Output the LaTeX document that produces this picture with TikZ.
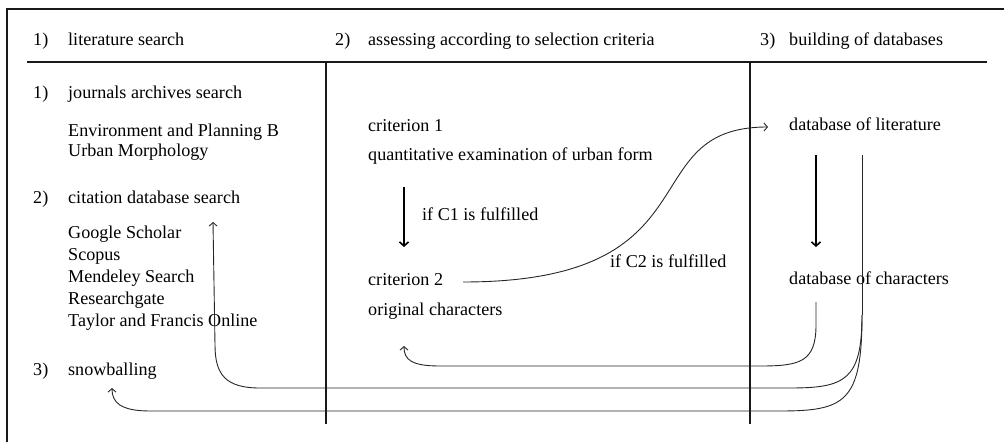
\documentclass[tikz,border=0pt]{standalone}
\usepackage{fontspec}
\setmainfont{Liberation Serif}
\usetikzlibrary{arrows.meta}
\begin{document}
\begin{tikzpicture}[x=1pt,y=-1pt,
 txt/.style={anchor=base west,inner sep=0pt,font=\fontsize{18.1}{22}\selectfont},
 frame/.style={line width=2pt,black!90},
 flow/.style={line width=1.6pt,-{Straight Barb[length=4pt,width=9pt]}},
 back/.style={line width=0.9pt,black!85,-{Straight Barb[length=3.5pt,width=8pt]}},
 plain/.style={line width=0.9pt,black!85},
]
\useasboundingbox (0,0) rectangle (1004,442);
% frame
\draw[frame] (7,442) -- (7,9) -- (1004,9);
\draw[frame] (27,62) -- (987,62);
\draw[frame] (326,62) -- (326,424);
\draw[frame] (750,62) -- (750,424);
% headers
\node[txt] (h1n) at (33,45) {1)};
\node[txt] (h1) at (68,45) {literature search};
\node[txt] (h2n) at (335,45) {2)};
\node[txt] (h2) at (368,45) {assessing according to selection criteria};
\node[txt] (h3n) at (760,45) {3)};
\node[txt] (h3) at (789,45) {building of databases};
% column 1
\node[txt] (n1) at (33,98) {1)};
\node[txt] (jas) at (68,98) {journals archives search};
\node[txt] (epb) at (68,136) {Environment and Planning B};
\node[txt] (um) at (68,156) {Urban Morphology};
\node[txt] (n2) at (33,203) {2)};
\node[txt] (cds) at (68,203) {citation database search};
\node[txt] (gs) at (68,238) {Google Scholar};
\node[txt] (sc) at (68,260) {Scopus};
\node[txt] (ms) at (68,282) {Mendeley Search};
\node[txt] (rg) at (68,304) {Researchgate};
\node[txt] (tf) at (68,326) {Taylor and Francis Online};
\node[txt] (n3) at (33,375) {3)};
\node[txt] (sb) at (68,375) {snowballing};
% column 2
\node[txt] (c1) at (368,131) {criterion 1};
\node[txt] (q) at (368,160) {quantitative examination of urban form};
\node[txt] (ifc1) at (422,220) {if C1 is fulfilled};
\node[txt] (c2) at (368,285) {criterion 2};
\node[txt] (oc) at (368,315) {original characters};
\node[txt] (ifc2) at (610,267) {if C2 is fulfilled};
% column 3
\node[txt] (dbl) at (789,130) {database of literature};
\node[txt] (dbc) at (789,284) {database of characters};
% connector end points
\coordinate (a1s) at (404,187);
\coordinate (a1e) at (404,247);
\coordinate (a2s) at (816,155);
\coordinate (a2e) at (816,247);
\coordinate (c2s) at (463,282);
\coordinate (dble) at (768,127);
\coordinate (dbcs) at (816,302);
\coordinate (oce) at (404,346);
\coordinate (ls) at (862,155);
\coordinate (lm) at (862,315);
\coordinate (gse) at (213,222);
\coordinate (sbe) at (112,388);
% arrows
\draw[flow] (a1s) -- (a1e);
\draw[flow] (a2s) -- (a2e);
\draw[back] (c2s) .. controls (720,282) and (630,127) .. (dble);
\draw[back] (dbcs) -- (816,325) .. controls (816,362) and (800,366) .. (760,366)
  -- (440,366) .. controls (412,366) and (404,360) .. (oce);
\draw[plain] (ls) -- (lm);
\draw[back] (lm) .. controls (862,380) and (845,388) .. (790,388)
  -- (260,388) .. controls (226,388) and (215,375) .. (215,345) -- (gse);
\draw[back] (lm) .. controls (862,402) and (845,411) .. (780,411)
  -- (150,411) .. controls (120,411) and (112,402) .. (sbe);
\end{tikzpicture}
\end{document}
